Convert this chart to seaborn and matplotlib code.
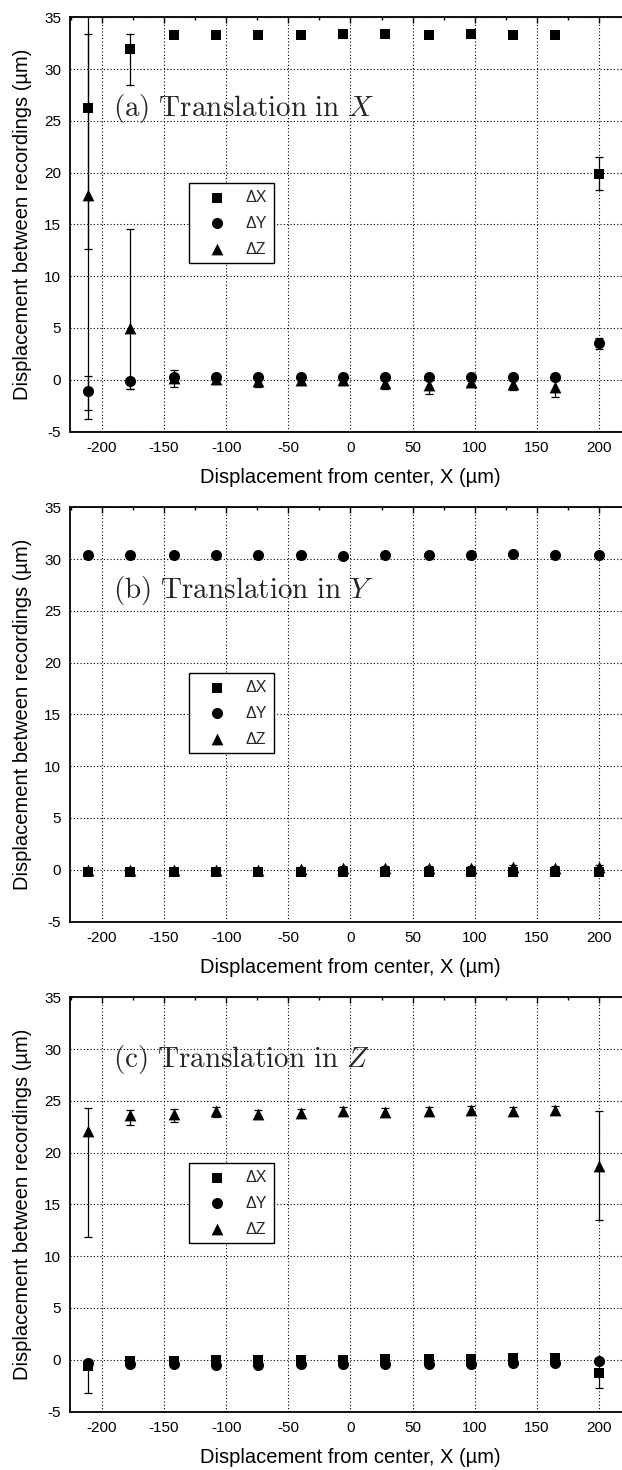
import seaborn as sns
import pandas as pd
import numpy as np
import matplotlib
matplotlib.use("Agg")
import matplotlib.pyplot as plt
from matplotlib.ticker import MultipleLocator

# x positions of the recordings (um from center)
xpos = [-211, -177, -142, -108, -74, -40, -6, 28, 63, 97, 131, 165, 200]

# (a) translation in X
a_dx = [26.2, 31.9, 33.3, 33.3, 33.3, 33.3, 33.35, 33.35, 33.3, 33.35, 33.3, 33.25, 19.9]
a_dx_lo = [13.6, 3.4, 0.2, 0.2, 0.2, 0.2, 0.2, 0.2, 0.2, 0.2, 0.2, 0.2, 1.6]
a_dx_hi = [7.2, 1.5, 0.2, 0.2, 0.2, 0.2, 0.2, 0.2, 0.2, 0.2, 0.2, 0.2, 1.6]
a_dy = [-1.1, -0.1, 0.25, 0.25, 0.3, 0.25, 0.3, 0.3, 0.25, 0.25, 0.25, 0.25, 3.5]
a_dy_lo = [1.8, 0.8, 0.3, 0.3, 0.3, 0.3, 0.3, 0.3, 0.3, 0.3, 0.3, 0.3, 0.5]
a_dy_hi = [1.5, 0.3, 0.3, 0.3, 0.3, 0.3, 0.3, 0.3, 0.3, 0.3, 0.3, 0.3, 0.5]
a_dz = [17.8, 5.0, 0.2, 0.05, -0.1, 0.0, 0.0, -0.3, -0.5, -0.2, -0.4, -0.75, np.nan]
a_dz_lo = [21.6, 5.9, 0.9, 0.5, 0.6, 0.5, 0.5, 0.6, 0.9, 0.5, 0.6, 0.9, np.nan]
a_dz_hi = [21.6, 9.6, 0.7, 0.4, 0.5, 0.4, 0.4, 0.5, 0.7, 0.4, 0.5, 0.7, np.nan]

# (b) translation in Y
b_dx = [-0.2, -0.2, -0.2, -0.2, -0.2, -0.2, -0.2, -0.2, -0.2, -0.2, -0.2, -0.2, -0.2]
b_dx_err = [0.2, 0.2, 0.2, 0.2, 0.2, 0.2, 0.2, 0.2, 0.2, 0.2, 0.2, 0.2, 0.2]
b_dy = [30.4, 30.4, 30.4, 30.4, 30.35, 30.35, 30.3, 30.35, 30.4, 30.4, 30.5, 30.4, 30.4]
b_dy_err = [0.2, 0.2, 0.2, 0.2, 0.2, 0.2, 0.2, 0.2, 0.2, 0.2, 0.2, 0.2, 0.2]
b_dz = [0.0, -0.05, -0.05, -0.05, 0.0, 0.05, 0.2, 0.15, 0.15, 0.15, 0.25, 0.2, 0.3]
b_dz_err = [0.2, 0.2, 0.2, 0.2, 0.2, 0.2, 0.2, 0.2, 0.2, 0.2, 0.2, 0.2, 0.2]

# (c) translation in Z
c_dx = [-0.6, -0.15, -0.1, -0.05, -0.05, 0.0, 0.0, 0.05, 0.1, 0.1, 0.15, 0.2, -1.3]
c_dx_lo = [2.6, 0.2, 0.2, 0.2, 0.2, 0.2, 0.2, 0.2, 0.2, 0.2, 0.2, 0.2, 1.45]
c_dx_hi = [0.3, 0.2, 0.2, 0.2, 0.2, 0.2, 0.2, 0.2, 0.2, 0.2, 0.2, 0.2, 1.1]
c_dy = [-0.35, -0.45, -0.45, -0.5, -0.5, -0.45, -0.45, -0.45, -0.4, -0.4, -0.35, -0.3, -0.15]
c_dy_err = [0.2, 0.2, 0.2, 0.2, 0.2, 0.2, 0.2, 0.2, 0.2, 0.2, 0.2, 0.2, 0.2]
c_dz = [22.1, 23.6, 23.7, 24.0, 23.7, 23.8, 24.0, 23.9, 24.0, 24.1, 24.0, 24.15, 18.7]
c_dz_lo = [10.2, 0.9, 0.75, 0.6, 0.5, 0.4, 0.4, 0.4, 0.4, 0.4, 0.4, 0.4, 5.2]
c_dz_hi = [2.2, 0.5, 0.5, 0.4, 0.4, 0.4, 0.4, 0.4, 0.4, 0.4, 0.4, 0.4, 5.3]

series_names = ["\u0394X", "\u0394Y", "\u0394Z"]
panel_titles = [r"$\mathrm{(a)\ Translation\ in\ }X$",
                r"$\mathrm{(b)\ Translation\ in\ }Y$",
                r"$\mathrm{(c)\ Translation\ in\ }Z$"]
title_y = [26.2, 27.0, 29.0]
xlabel = "Displacement from center, X (\u00b5m)"
ylabel = "Displacement between recordings (\u00b5m)"

panels = [
    [(a_dx, a_dx_lo, a_dx_hi), (a_dy, a_dy_lo, a_dy_hi), (a_dz, a_dz_lo, a_dz_hi)],
    [(b_dx, b_dx_err, b_dx_err), (b_dy, b_dy_err, b_dy_err), (b_dz, b_dz_err, b_dz_err)],
    [(c_dx, c_dx_lo, c_dx_hi), (c_dy, c_dy_err, c_dy_err), (c_dz, c_dz_lo, c_dz_hi)],
]

sns.set_theme(style="white")
plt.rcParams["font.family"] = ["Liberation Sans", "DejaVu Sans"]
plt.rcParams["mathtext.fontset"] = "cm"
plt.rcParams["axes.unicode_minus"] = False

markers = ["s", "o", "^"]
sizes = [52, 64, 72]

W, H = 622, 1470
fig = plt.figure(figsize=(W / 100, H / 100), dpi=100)

for i, panel in enumerate(panels):
    top = 17.3 + 490 * i
    bot = 431.5 + 490 * i
    ax = fig.add_axes([69.6 / W, 1 - bot / H, 561.7 / W, (bot - top) / H])

    for (vals, lo, hi), name, m, s in zip(panel, series_names, markers, sizes):
        df = pd.DataFrame({"x": xpos, "y": vals, "lo": lo, "hi": hi})
        ax.errorbar(df["x"], df["y"], yerr=[df["lo"], df["hi"]], fmt="none",
                    ecolor="black", elinewidth=0.9, capsize=3, capthick=0.9, zorder=2)
        sns.scatterplot(data=df, x="x", y="y", marker=m, s=s, color="black",
                        edgecolor="black", linewidth=0, label=name, ax=ax, zorder=3)

    ax.set_xlim(-226, 226)
    ax.set_ylim(-5, 35)
    ax.xaxis.set_major_locator(MultipleLocator(50))
    ax.xaxis.set_minor_locator(MultipleLocator(25))
    ax.yaxis.set_major_locator(MultipleLocator(5))
    ax.yaxis.set_minor_locator(MultipleLocator(2.5))
    ax.grid(True, which="major", color="black", linestyle=(0, (1, 2)), linewidth=0.8)
    ax.tick_params(which="both", direction="in", top=True, color="black",
                   labelsize=11, labelcolor="black")
    ax.tick_params(which="major", length=4, width=1)
    ax.tick_params(which="minor", length=2.5, width=1)
    ax.tick_params(axis="x", pad=7)
    ax.tick_params(axis="y", pad=6)
    for sp in ax.spines.values():
        sp.set_color("black")
        sp.set_linewidth(1.3)

    ax.set_xlabel(xlabel, fontsize=14.5, color="black")
    ax.set_ylabel(ylabel, fontsize=14.5, color="black")
    ax.xaxis.set_label_coords(0.5, -0.088)
    ax.yaxis.set_label_coords(-0.067, 0.5)

    ax.text(-191, title_y[i], panel_titles[i], fontsize=21, va="center", ha="left")

    leg = ax.legend(loc="upper left", bbox_to_anchor=(0.2126, 0.599), frameon=True,
                    fancybox=False, edgecolor="black", framealpha=1, fontsize=11.5,
                    handletextpad=0.45, borderpad=0.4, labelspacing=0.68,
                    handlelength=2.7, borderaxespad=0)
    leg.get_frame().set_linewidth(1.0)

fig.savefig("out.png", dpi=100)
